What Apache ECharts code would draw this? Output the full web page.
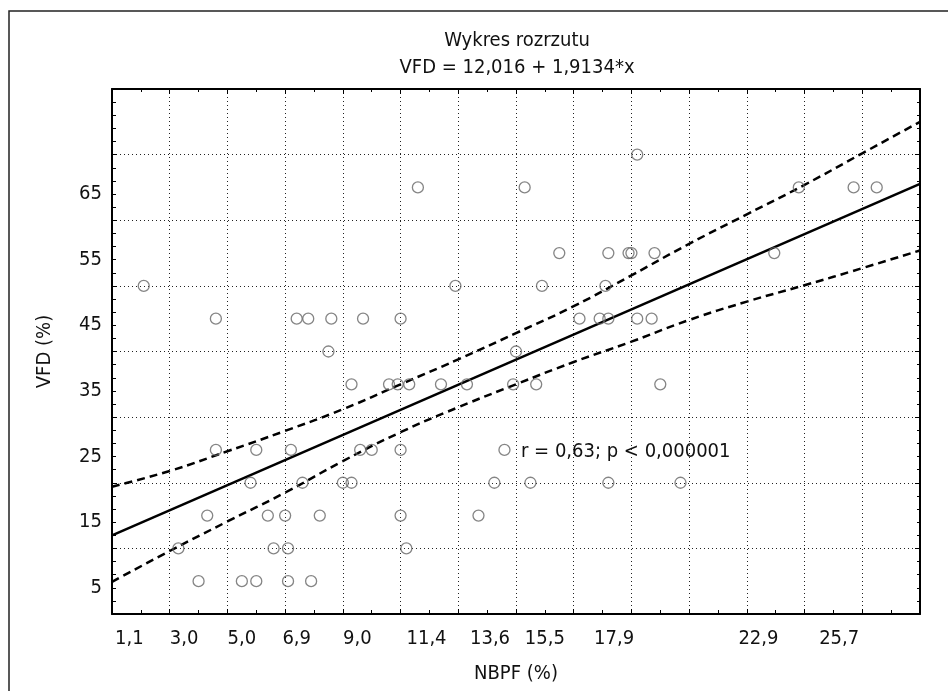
<!DOCTYPE html>
<html>
<head>
<meta charset="utf-8">
<script src="https://cdn.jsdelivr.net/npm/echarts@6/dist/echarts.min.js"></script>
<style>
  html, body { margin: 0; padding: 0; background: #fff; }
  #chart { width: 948px; height: 691px; }
</style>
</head>
<body>
<div id="chart"></div>
<script>
// punkty pomiarowe (NBPF %, VFD %)
const nbpf = [
  3.5, 5.0, 5.5, 6.6, 7.4,
  2.8, 6.1, 6.6, 10.7,
  3.8, 5.9, 6.5, 7.7, 10.5, 13.2,
  5.3, 7.1, 8.5, 8.8, 13.75, 15.0, 17.7, 20.2,
  4.1, 5.5, 6.7, 9.1, 9.5, 10.5, 14.1,
  8.8, 10.1, 10.4, 10.8, 11.9, 12.8, 14.4, 15.2, 19.5,
  8.0, 14.5,
  4.1, 6.9, 7.3, 8.1, 9.2, 10.5, 16.7, 17.4, 17.7, 18.7, 19.2,
  1.6, 12.4, 15.4, 17.6,
  16.0, 17.7, 18.4, 18.5, 19.3, 23.45,
  11.1, 14.8, 24.3, 26.2, 27.0,
  18.7
]
const vfd = [
  6, 6, 6, 6, 6,
  11, 11, 11, 11,
  16, 16, 16, 16, 16, 16,
  21, 21, 21, 21, 21, 21, 21, 21,
  26, 26, 26, 26, 26, 26, 26,
  36, 36, 36, 36, 36, 36, 36, 36, 36,
  41, 41,
  46, 46, 46, 46, 46, 46, 46, 46, 46, 46, 46,
  51, 51, 51, 51,
  56, 56, 56, 56, 56, 56,
  66, 66, 66, 66, 66,
  71
]

// prosta regresji VFD = 12,016 + 1,9134*x
const fitX = [0.5, 28.5]
const fitY = [12.97, 66.55]

// przedzial ufnosci
const bandX = [0.5, 2.5, 4.5, 6.5, 8.5, 10.5, 12.5, 14.5, 16.5, 18.5, 20.5, 22.5, 24.5, 26.5, 28.5]
const bandUpper = [20.4, 22.8, 25.8, 28.9, 32.2, 36.0, 39.8, 43.8, 47.9, 52.6, 57.4, 61.9, 66.4, 71.2, 76.0]
const bandLower = [5.9, 10.6, 15.1, 19.5, 24.3, 28.7, 32.5, 36.0, 39.4, 42.5, 45.8, 48.6, 51.1, 53.7, 56.4]

const xTickLabels = [1.1, 3.0, 5.0, 6.9, 9.0, 11.4, 13.6, 15.5, 17.9, 22.9, 25.7]
const yTickLabels = [5, 15, 25, 35, 45, 55, 65]

const FONT = "'Liberation Sans Narrow', 'Arial Narrow', 'DejaVu Sans Condensed', sans-serif"
const FS = 20
const fmt = (v) => v.toFixed(1).replace(".", ",")
const pairs = (xs, ys) => xs.map((x, i) => [x, ys[i]])

const chart = echarts.init(document.getElementById("chart"))

const frameAxis = {
  axisLine: { show: true, lineStyle: { color: "#000", width: 2 } },
  axisTick: { show: true, inside: true, length: 5, lineStyle: { color: "#000" } },
  axisLabel: { show: false },
  splitLine: { show: false },
}

chart.setOption({
  animation: false,
  backgroundColor: "#fff",
  grid: { left: 112, right: 28, top: 89, bottom: 77 },
  graphic: [
    {
      type: "rect",
      shape: { x: 9, y: 11, width: 1000, height: 800 },
      style: { fill: "none", stroke: "#222", lineWidth: 1.5 },
      silent: true,
    },
    {
      type: "text",
      x: 517,
      y: 41,
      style: { text: "Wykres rozrzutu", font: FS + "px " + FONT, fill: "#111", align: "center", verticalAlign: "middle" },
    },
    {
      type: "text",
      x: 517,
      y: 68,
      style: { text: "VFD = 12,016 + 1,9134*x", font: FS + "px " + FONT, fill: "#111", align: "center", verticalAlign: "middle" },
    },
    {
      type: "text",
      x: 521,
      y: 452,
      style: { text: "r = 0,63; p < 0,000001", font: FS + "px " + FONT, fill: "#111", align: "left", verticalAlign: "middle" },
    },
  ],
  xAxis: [
    {
      type: "value",
      min: 0.5,
      max: 28.5,
      interval: 2,
      name: "NBPF (%)",
      nameLocation: "middle",
      nameGap: 50,
      nameTextStyle: { fontFamily: FONT, fontSize: FS, color: "#111" },
      axisLine: { show: true, lineStyle: { color: "#000", width: 2 } },
      axisTick: { show: true, inside: true, length: 5, lineStyle: { color: "#000" } },
      minorTick: { show: true, splitNumber: 2, length: 4, lineStyle: { color: "#000" } },
      axisLabel: {
        customValues: xTickLabels,
        formatter: (v) => fmt(v),
        fontFamily: FONT,
        fontSize: FS,
        color: "#111",
        margin: 15,
      },
      splitLine: { show: true, lineStyle: { color: "#222", width: 1, type: [1, 3] } },
    },
    Object.assign({ type: "value", position: "top", min: 0.5, max: 28.5, interval: 2 }, frameAxis, {
      minorTick: { show: true, splitNumber: 2, length: 3, lineStyle: { color: "#000" } },
    }),
  ],
  yAxis: [
    {
      type: "value",
      min: 1,
      max: 81,
      interval: 10,
      name: "VFD (%)",
      nameLocation: "middle",
      nameRotate: 90,
      nameGap: 57,
      nameTextStyle: { fontFamily: FONT, fontSize: FS, color: "#111" },
      axisLine: { show: true, lineStyle: { color: "#000", width: 2 } },
      axisTick: { show: true, inside: true, length: 5, lineStyle: { color: "#000" } },
      minorTick: { show: true, splitNumber: 5, length: 4, lineStyle: { color: "#000" } },
      axisLabel: {
        customValues: yTickLabels,
        formatter: (v) => String(v),
        fontFamily: FONT,
        fontSize: FS,
        color: "#111",
        margin: 10,
      },
      splitLine: { show: true, lineStyle: { color: "#222", width: 1, type: [1, 3] } },
    },
    Object.assign({ type: "value", position: "right", min: 1, max: 81, interval: 10 }, frameAxis, {
      minorTick: { show: true, splitNumber: 5, length: 3, lineStyle: { color: "#000" } },
    }),
  ],
  series: [
    {
      type: "line",
      data: pairs(bandX, bandUpper),
      smooth: true,
      symbol: "none",
      lineStyle: { color: "#000", width: 2.5, type: [8, 5] },
      z: 3,
    },
    {
      type: "line",
      data: pairs(bandX, bandLower),
      smooth: true,
      symbol: "none",
      lineStyle: { color: "#000", width: 2.5, type: [8, 5] },
      z: 3,
    },
    {
      type: "line",
      data: pairs(fitX, fitY),
      symbol: "none",
      lineStyle: { color: "#000", width: 2.5 },
      z: 3,
    },
    {
      type: "scatter",
      data: pairs(nbpf, vfd),
      symbol: "circle",
      symbolSize: 11,
      itemStyle: { color: "rgba(0,0,0,0)", borderColor: "#666", borderWidth: 1.3 },
      z: 4,
    },
  ],
})
</script>
</body>
</html>
